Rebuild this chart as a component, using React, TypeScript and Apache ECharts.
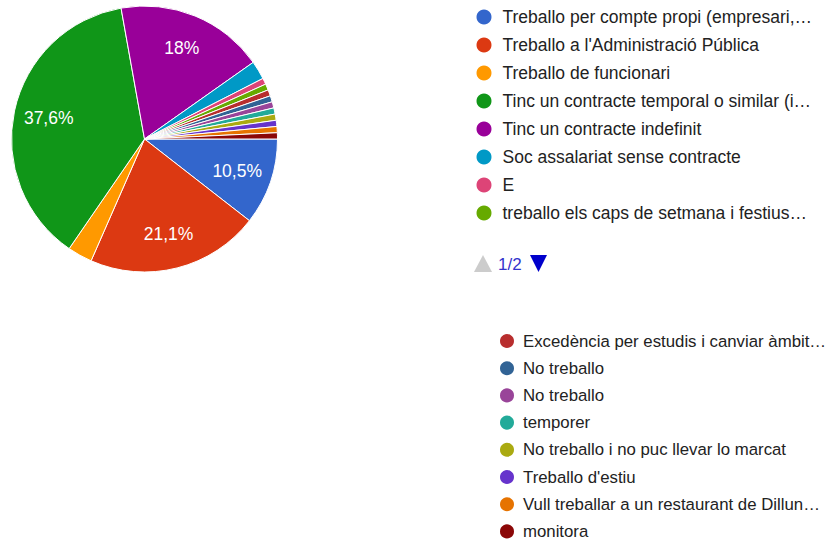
import React, { useEffect, useRef } from "react";
import * as echarts from "echarts";

const categories = [
  "Treballo per compte propi (empresari,…",
  "Treballo a l'Administració Pública",
  "Treballo de funcionari",
  "Tinc un contracte temporal o similar (i…",
  "Tinc un contracte indefinit",
  "Soc assalariat sense contracte",
  "E",
  "treballo els caps de setmana i festius…",
  "Excedència per estudis i canviar àmbit…",
  "No treballo",
  "No treballo",
  "temporer",
  "No treballo i no puc llevar lo marcat",
  "Treballo d'estiu",
  "Vull treballar a un restaurant de Dillun…",
  "monitora",
];

const values = [14, 28, 4, 50, 24, 3, 1, 1, 1, 1, 1, 1, 1, 1, 1, 1];

const colors = [
  "#3366cc", "#dc3912", "#ff9900", "#109618", "#990099", "#0099c6", "#dd4477", "#66aa00",
  "#b82e2e", "#316395", "#994499", "#22aa99", "#aaaa11", "#6633cc", "#e67300", "#8b0707",
];

const pagerText = "1/2";

const FONT = "'Liberation Sans', Arial, sans-serif";

export default function App() {
  const ref = useRef<HTMLDivElement>(null);

  useEffect(() => {
    if (!ref.current) return;
    const chart = echarts.init(ref.current, undefined, { renderer: "svg" });
    const keys = categories.map((c, i) => {
      const dupCount = categories.slice(0, i).filter((x) => x === c).length;
      return c + "\u200b".repeat(dupCount);
    });
    const total = values.reduce((a, b) => a + b, 0);
    const pct = (v: number) => {
      const p = Math.round((v / total) * 1000) / 10;
      return String(p).replace(".", ",") + "%";
    };
    const clean = (name: string) => name.replace(/\u200b/g, "");

    const legendBase = {
      orient: "vertical" as const,
      icon: "circle",
      selectedMode: false,
      padding: 0,
      formatter: clean,
    };

    chart.setOption({
      animation: false,
      legend: [
        {
          ...legendBase,
          left: 474.5,
          top: 7.5,
          height: 300,
          itemWidth: 17,
          itemHeight: 17,
          itemGap: 9.0,
          data: keys.slice(0, 8),
          textStyle: {
            color: "#222222",
            fontSize: 17.5,
            fontFamily: FONT,
            lineHeight: 17,
            padding: [0, 0, 0, 5],
          },
        },
        {
          ...legendBase,
          left: 498,
          top: 332,
          height: 400,
          itemWidth: 16,
          itemHeight: 16,
          itemGap: 9.2,
          data: keys.slice(8),
          textStyle: {
            color: "#222222",
            fontSize: 16.8,
            fontFamily: FONT,
            lineHeight: 16,
            padding: [0, 0, 0, 3],
          },
        },
      ],
      graphic: [
        {
          type: "polygon",
          shape: { points: [[474, 272], [483, 255], [492, 272]] },
          style: { fill: "#cccccc" },
        },
        {
          type: "text",
          x: 498,
          y: 264,
          style: {
            text: pagerText,
            fill: "#3333cc",
            font: `17px ${FONT}`,
            verticalAlign: "middle",
          },
        },
        {
          type: "polygon",
          shape: { points: [[530, 255], [547, 255], [538.5, 272]] },
          style: { fill: "#0000cc" },
        },
      ],
      series: [
        {
          type: "pie",
          center: [144.5, 139],
          radius: [0, 133],
          startAngle: 0,
          clockwise: true,
          silent: true,
          label: { show: false },
          labelLine: { show: false },
          itemStyle: { borderColor: "#ffffff", borderWidth: 1 },
          emphasis: { disabled: true },
          data: keys.map((k, i) => ({
            name: k,
            value: values[i],
            itemStyle: { color: colors[i] },
          })),
        },
        {
          type: "pie",
          center: [144.5, 139],
          radius: [57, 133],
          startAngle: 0,
          clockwise: true,
          silent: true,
          emphasis: { disabled: true },
          itemStyle: { color: "transparent", borderWidth: 0 },
          labelLine: { show: false },
          label: {
            show: true,
            position: "inside",
            color: "#ffffff",
            fontSize: 17.5,
            fontFamily: FONT,
            formatter: (p: any) => (p.value / total >= 0.05 ? pct(p.value) : ""),
          },
          data: keys.map((k, i) => ({ name: k, value: values[i] })),
        },
      ],
    });
    return () => chart.dispose();
  }, []);

  return (
    <div
      ref={ref}
      style={{ position: "fixed", left: 0, top: 0, width: 832, height: 540, background: "#ffffff" }}
    />
  );
}
